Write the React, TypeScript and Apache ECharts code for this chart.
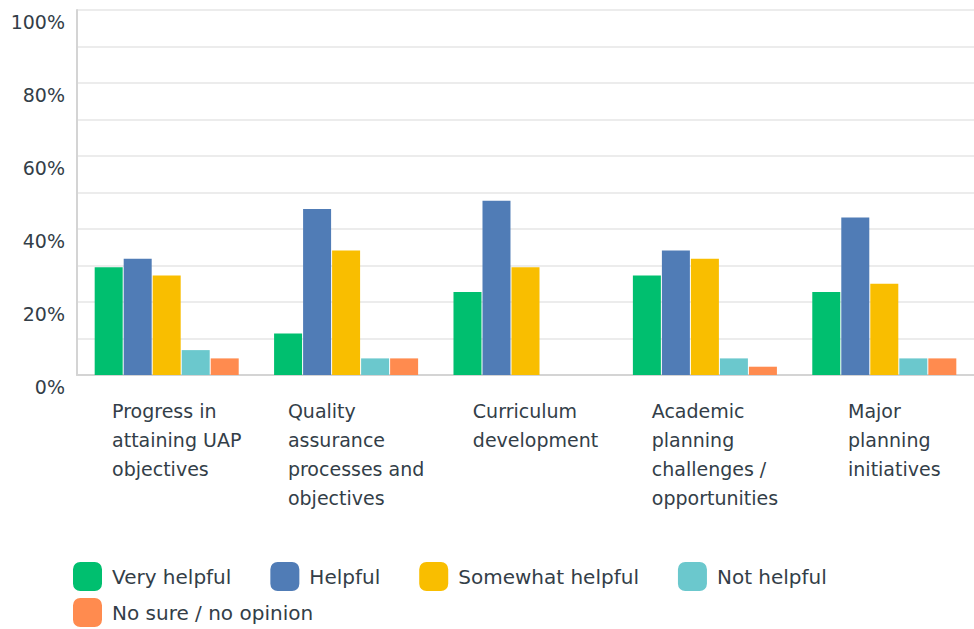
import React, { useEffect, useRef } from "react";
import * as echarts from "echarts";

const categories = [
  "Progress in\nattaining UAP\nobjectives",
  "Quality\nassurance\nprocesses and\nobjectives",
  "Curriculum\ndevelopment",
  "Academic\nplanning\nchallenges /\nopportunities",
  "Major\nplanning\ninitiatives",
];

const seriesNames = [
  "Very helpful",
  "Helpful",
  "Somewhat helpful",
  "Not helpful",
  "No sure / no opinion",
];

const veryHelpful = [29.55, 11.36, 22.73, 27.27, 22.73];
const helpful = [31.82, 45.45, 47.73, 34.09, 43.18];
const somewhatHelpful = [27.27, 34.09, 29.55, 31.82, 25.0];
const notHelpful = [6.82, 4.55, 0, 4.55, 4.55];
const noOpinion = [4.55, 4.55, 0, 2.27, 4.55];

const colors = ["#00bf6f", "#507cb6", "#f9be00", "#6bc8cd", "#ff8b4f"];
const textColor = "#333e48";
const font = "DejaVu Sans";

export default function App() {
  const ref = useRef<HTMLDivElement>(null);

  useEffect(() => {
    if (!ref.current) return;
    const chart = echarts.init(ref.current, null, { renderer: "svg" });
    const allData = [veryHelpful, helpful, somewhatHelpful, notHelpful, noOpinion];
    const legendBase = {
      left: 68,
      icon: "roundRect",
      itemWidth: 29,
      itemHeight: 29,
      itemGap: 39,
      textStyle: {
        fontSize: 20,
        color: textColor,
        fontFamily: font,
        padding: [0, 0, 0, 5],
      },
    };
    chart.setOption({
      animation: false,
      color: colors,
      grid: { left: 77, top: 10, width: 907, bottom: 254, containLabel: false },
      legend: [
        { ...legendBase, data: seriesNames.slice(0, 4), top: 557 },
        { ...legendBase, data: seriesNames.slice(4), top: 593 },
      ],
      xAxis: {
        type: "category",
        data: categories,
        axisTick: { show: false },
        axisLine: { show: true, lineStyle: { color: "#d4d4d4", width: 2 } },
        axisLabel: {
          interval: 0,
          margin: 21,
          align: "center",
          padding: [0, 0, 0, 20],
          formatter: (v: string) =>
            v
              .split("\n")
              .map((l) => `{l|${l}}`)
              .join("\n"),
          rich: {
            l: {
              align: "left",
              fontSize: 19,
              lineHeight: 29,
              color: textColor,
              fontFamily: font,
            },
          },
        },
      },
      yAxis: {
        type: "value",
        min: 0,
        max: 100,
        interval: 10,
        axisTick: { show: false },
        axisLine: { show: true, lineStyle: { color: "#d4d4d4", width: 2 } },
        splitLine: { show: true, lineStyle: { color: "#ececec", width: 2 } },
        axisLabel: {
          margin: 12,
          fontSize: 19,
          color: textColor,
          fontFamily: font,
          verticalAlign: "top",
          lineHeight: 24,
          formatter: (v: number) => (v % 20 === 0 ? `${v}%` : ""),
        },
      },
      series: seriesNames.map((name, i) => ({
        name,
        type: "bar",
        data: allData[i],
        barWidth: 28,
        barGap: "3.6%",
        itemStyle: { color: colors[i] },
      })),
    });
    return () => chart.dispose();
  }, []);

  return (
    <div
      ref={ref}
      style={{ position: "fixed", left: 0, top: 0, width: 974, height: 629, background: "#fff" }}
    />
  );
}
